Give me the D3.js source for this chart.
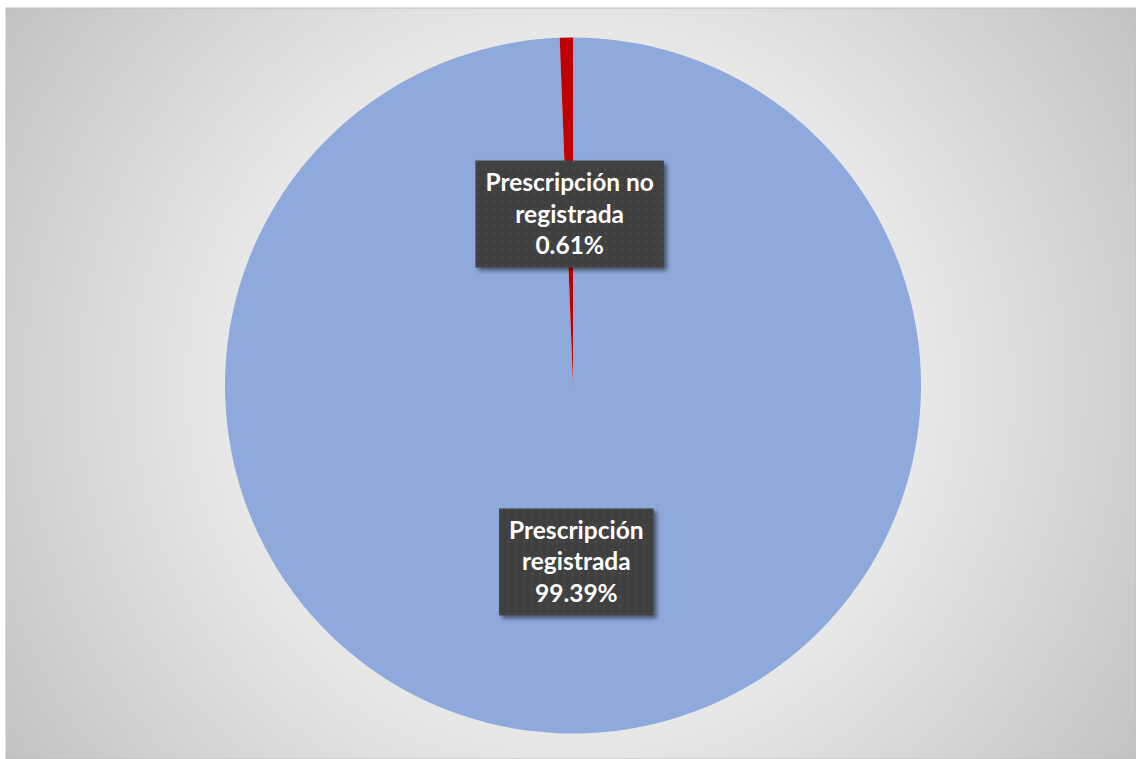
<!DOCTYPE html>
<html>
<head>
<meta charset="utf-8">
<script src="https://cdnjs.cloudflare.com/ajax/libs/d3/7.8.5/d3.min.js"></script>
<style>
  body { margin: 0; background: #fff; }
  svg { display: block; }
  .slice-label { font-family: Lato, "Open Sans", sans-serif; font-weight: bold; font-size: 24.5px; fill: #fff; }
</style>
</head>
<body>
<svg id="chart" width="1136" height="759"></svg>
<script>
// data
var categories = ["Prescripción registrada", "Prescripción no registrada"];
var labelLines = [["Prescripción", "registrada"], ["Prescripción no", "registrada"]];
var values = [99.39, 0.61];
var colors = ["#8EA9DB", "#C00000"];

const width = 1136, height = 759;
const center = { x: 573, y: 385.5 };
const radius = 348;

var svg = d3.select('#chart');
var defs = svg.append('defs');

// background gradient, white in the middle, grey at the corners
var bg = defs.append('radialGradient')
    .attr('id', 'bg')
    .attr('gradientUnits', 'userSpaceOnUse')
    .attr('cx', center.x).attr('cy', center.y).attr('r', 700);
bg.append('stop').attr('offset', '0%').attr('stop-color', '#ffffff');
bg.append('stop').attr('offset', '45%').attr('stop-color', '#ebebeb');
bg.append('stop').attr('offset', '100%').attr('stop-color', '#c0c0c0');

// dotted texture for the label boxes
var pat = defs.append('pattern')
    .attr('id', 'dots')
    .attr('patternUnits', 'userSpaceOnUse')
    .attr('width', 8).attr('height', 8);
pat.append('rect').attr('width', 8).attr('height', 8).attr('fill', '#404040');
pat.append('rect').attr('x', 3).attr('y', 3).attr('width', 2).attr('height', 2).attr('fill', '#4e4e4e');

var shadow = defs.append('filter').attr('id', 'shadow')
    .attr('x', '-10%').attr('y', '-10%').attr('width', '130%').attr('height', '130%');
shadow.append('feDropShadow')
    .attr('dx', 3).attr('dy', 3).attr('stdDeviation', 2)
    .attr('flood-color', '#000').attr('flood-opacity', 0.5);

// chart area
svg.append('rect')
    .attr('x', 6).attr('y', 8)
    .attr('width', width - 6).attr('height', height - 8)
    .attr('fill', 'url(#bg)')
    .attr('stroke', '#bfbfbf').attr('stroke-width', 1);

var pie = d3.pie().sort(null).value(d => d)(values);

var arc = d3.arc().innerRadius(0).outerRadius(radius);
var labelArc = d3.arc().innerRadius(radius * 0.5).outerRadius(radius * 0.5);

var g = svg.append('g')
    .attr('transform', 'translate(' + center.x + ',' + center.y + ')');

g.selectAll('path')
    .data(pie)
    .enter()
    .append('path')
    .attr('d', arc)
    .attr('fill', (d, i) => colors[i]);

// labels
var labels = g.selectAll('g.label')
    .data(pie)
    .enter()
    .append('g')
    .attr('class', 'label')
    .attr('transform', function(d) {
        var c = labelArc.centroid(d);
        return 'translate(' + c[0] + ',' + (c[1] + 2) + ')';
    });

labels.each(function(d, i) {
    var lab = d3.select(this);
    var lines = labelLines[i].concat([values[i].toFixed(2) + '%']);
    var box = lab.append('rect').attr('fill', 'url(#dots)').attr('filter', 'url(#shadow)');
    var txt = lab.append('text')
        .attr('class', 'slice-label')
        .attr('text-anchor', 'middle');
    lines.forEach(function(l, k) {
        txt.append('tspan')
            .attr('x', 0)
            .attr('y', (k - 1) * 31.5 + 9)
            .text(l);
    });
    var bb = txt.node().getBBox();
    box.attr('x', bb.x - 10).attr('y', -53)
        .attr('width', bb.width + 20).attr('height', 107);
});
</script>
</body>
</html>
